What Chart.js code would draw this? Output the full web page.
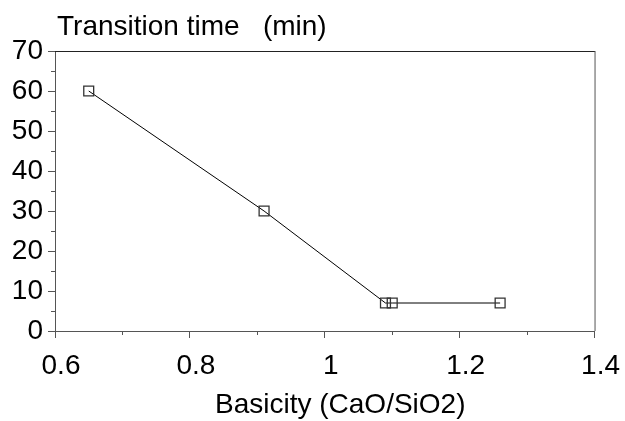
<!DOCTYPE html>
<html>
<head>
<meta charset="utf-8">
<script src="https://cdn.jsdelivr.net/npm/chart.js@4/dist/chart.umd.min.js"></script>
<style>
  html, body { margin: 0; padding: 0; background: #ffffff; }
  #wrap { width: 625px; height: 421px; }
</style>
</head>
<body>
<div id="wrap"><canvas id="c" width="625" height="421"></canvas></div>
<script>
// ---- data ----
const basicity = [0.65, 0.91, 1.09, 1.10, 1.26];
const transitionTime = [60, 30, 7, 7, 7];
const xTicks = [0.6, 0.8, 1.0, 1.2, 1.4];
const yTicks = [0, 10, 20, 30, 40, 50, 60, 70];
const xMinorTicks = [0.7, 0.9, 1.1, 1.3];
const yMinorTicks = [5, 15, 25, 35, 45, 55, 65];
const yTitle = 'Transition time   (min)';
const xTitle = 'Basicity (CaO/SiO2)';

const FONT = "'Liberation Sans', Arial, Helvetica, sans-serif";
const AXIS = '#555555';

const points = basicity.map((x, i) => ({ x: x, y: transitionTime[i] }));

const framePlugin = {
  id: 'frame',
  afterDraw(chart) {
    const ctx = chart.ctx;
    const a = chart.chartArea;
    const xs = chart.scales.x, ys = chart.scales.y;
    ctx.save();
    // top & right border
    ctx.strokeStyle = '#222222';
    ctx.lineWidth = 1;
    ctx.beginPath();
    ctx.moveTo(a.left, a.top + 0.5);
    ctx.lineTo(a.right + 0.5, a.top + 0.5);
    ctx.stroke();
    ctx.strokeStyle = AXIS;
    ctx.beginPath();
    ctx.moveTo(a.right + 0.5, a.top);
    ctx.lineTo(a.right + 0.5, a.bottom);
    ctx.stroke();
    // minor ticks
    ctx.beginPath();
    xMinorTicks.forEach(v => {
      const px = Math.round(xs.getPixelForValue(v)) + 0.5;
      ctx.moveTo(px, a.bottom);
      ctx.lineTo(px, a.bottom + 4);
    });
    yMinorTicks.forEach(v => {
      const py = Math.round(ys.getPixelForValue(v)) + 0.5;
      ctx.moveTo(a.left, py);
      ctx.lineTo(a.left - 4, py);
    });
    ctx.stroke();
    // titles
    ctx.fillStyle = '#000000';
    ctx.font = '28px ' + FONT;
    ctx.textBaseline = 'alphabetic';
    ctx.textAlign = 'left';
    ctx.fillText(yTitle, a.left + 2, 35);
    ctx.fillText(xTitle, a.left + 160, 413);
    ctx.restore();
  }
};

new Chart(document.getElementById('c'), {
  type: 'scatter',
  data: {
    datasets: [{
      data: points,
      showLine: true,
      borderColor: '#000000',
      borderWidth: 1,
      pointStyle: 'rect',
      pointRadius: 7,
      pointBorderColor: '#333333',
      pointBorderWidth: 1.3,
      pointBackgroundColor: 'rgba(0,0,0,0)',
      tension: 0
    }]
  },
  options: {
    responsive: false,
    animation: false,
    devicePixelRatio: 1,
    layout: { padding: { top: 51, right: 30, bottom: 0, left: 0 } },
    plugins: { legend: { display: false }, tooltip: { enabled: false }, title: { display: false } },
    scales: {
      x: {
        type: 'linear',
        min: 0.6, max: 1.4,
        afterBuildTicks(scale) { scale.ticks = xTicks.map(v => ({ value: v })); },
        afterFit(scale) { scale.height = 90; },
        grid: { drawOnChartArea: false, drawTicks: true, tickLength: 7, color: AXIS, tickColor: AXIS },
        border: { display: true, color: AXIS, width: 1 },
        ticks: {
          color: '#000000',
          font: { family: FONT, size: 28 },
          padding: 11,
          labelOffset: 6,
          maxRotation: 0,
          autoSkip: false,
          callback: (v) => String(v)
        }
      },
      y: {
        type: 'linear',
        min: 0, max: 70,
        afterBuildTicks(scale) { scale.ticks = yTicks.map(v => ({ value: v })); },
        afterFit(scale) { scale.width = 55; },
        grid: { drawOnChartArea: false, drawTicks: true, tickLength: 7, color: AXIS, tickColor: AXIS },
        border: { display: true, color: AXIS, width: 1 },
        ticks: {
          color: '#000000',
          font: { family: FONT, size: 28 },
          padding: 5,
          autoSkip: false,
          callback: (v) => String(v)
        }
      }
    }
  },
  plugins: [framePlugin]
});
</script>
</body>
</html>
